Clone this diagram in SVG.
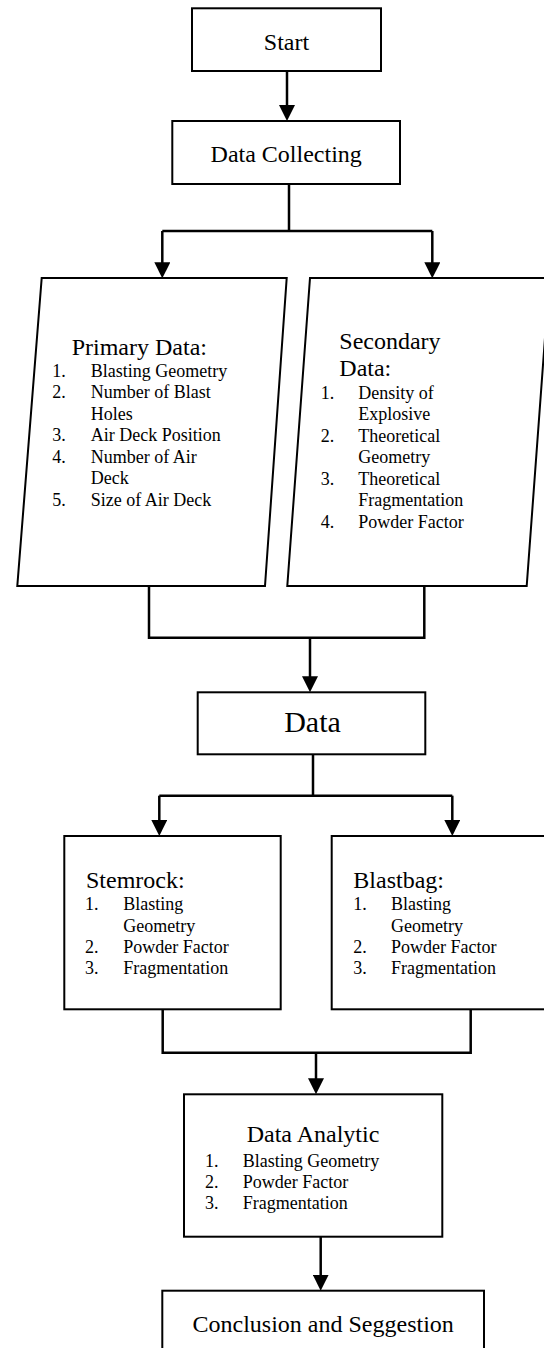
<svg xmlns="http://www.w3.org/2000/svg" width="544" height="1348" viewBox="0 0 544 1348">
<style>
.box{fill:#fff;stroke:#000;stroke-width:2}
.con{fill:none;stroke:#000;stroke-width:2.5}
.arr{fill:none;stroke:#000;stroke-width:2.5;marker-end:url(#ah)}
text{font-family:"Liberation Serif","Times New Roman",serif;fill:#000}
.t24{font-size:24px}
.t30{font-size:30px}
.t18{font-size:18px}
.c{text-anchor:middle}
</style>
<defs>
<marker id="ah" viewBox="0 0 16 16" refX="8" refY="8" markerWidth="16" markerHeight="16" markerUnits="userSpaceOnUse" orient="auto">
<path d="M0,0 L16,8 L0,16 z" fill="#000"/>
</marker>
</defs>
<rect x="0" y="0" width="544" height="1348" fill="#fff"/>
<g id="connectors">
<path class="arr" d="M287,71 V113"/>
<path class="con" d="M289,184 V231 M162.3,231 H432.3"/>
<path class="arr" d="M162.3,231 V270.3"/>
<path class="arr" d="M432.3,231 V270.3"/>
<path class="con" d="M149,586 V637.7 H424.3 V586"/>
<path class="arr" d="M310,637.7 V684.3"/>
<path class="con" d="M313,754.3 V795.7 M159.3,795.7 H452.3"/>
<path class="arr" d="M159.3,795.7 V828"/>
<path class="arr" d="M452.3,795.7 V828"/>
<path class="con" d="M162.7,1009.3 V1052.7 H470.7 V1009.3"/>
<path class="arr" d="M316,1052.7 V1086.3"/>
<path class="arr" d="M320.7,1236.7 V1282.7"/>
</g>
<g id="start">
<rect class="box" x="192" y="8.3" width="189" height="62.7"/>
<text class="t24 c" x="286.5" y="50">Start</text>
</g>
<g id="data-collecting">
<rect class="box" x="172.3" y="121" width="227.7" height="63"/>
<text class="t24 c" x="286.2" y="162">Data Collecting</text>
</g>
<g id="primary-data">
<polygon class="box" points="41.7,278 286.7,278 265,586 17.3,586"/>
<text class="t24" x="71.7" y="355">Primary Data:</text>
<g class="t18">
<text x="52.3" y="376.7">1.</text><text x="90.7" y="376.7">Blasting Geometry</text>
<text x="52.3" y="398.2">2.</text><text x="90.7" y="398.2">Number of Blast</text>
<text x="90.7" y="419.7">Holes</text>
<text x="52.3" y="441.2">3.</text><text x="90.7" y="441.2">Air Deck Position</text>
<text x="52.3" y="462.7">4.</text><text x="90.7" y="462.7">Number of Air</text>
<text x="90.7" y="484.2">Deck</text>
<text x="52.3" y="505.7">5.</text><text x="90.7" y="505.7">Size of Air Deck</text>
</g>
</g>
<g id="secondary-data">
<polygon class="box" points="310,278 549.4,278 526.7,586 287.3,586"/>
<text class="t24" x="339.3" y="349">Secondary</text>
<text class="t24" x="339.3" y="376">Data:</text>
<g class="t18">
<text x="320.7" y="398.5">1.</text><text x="358.3" y="398.5">Density of</text>
<text x="358.3" y="420">Explosive</text>
<text x="320.7" y="441.5">2.</text><text x="358.3" y="441.5">Theoretical</text>
<text x="358.3" y="463">Geometry</text>
<text x="320.7" y="484.5">3.</text><text x="358.3" y="484.5">Theoretical</text>
<text x="358.3" y="506">Fragmentation</text>
<text x="320.7" y="527.5">4.</text><text x="358.3" y="527.5">Powder Factor</text>
</g>
</g>
<g id="data">
<rect class="box" x="197.7" y="692.3" width="227.6" height="62"/>
<text class="t30 c" x="312.5" y="731.7">Data</text>
</g>
<g id="stemrock">
<rect class="box" x="64.3" y="836" width="216.4" height="173.3"/>
<text class="t24" x="86" y="888.3">Stemrock:</text>
<g class="t18">
<text x="85" y="910.3">1.</text><text x="123.3" y="910.3">Blasting</text>
<text x="123.3" y="931.7">Geometry</text>
<text x="85" y="953">2.</text><text x="123.3" y="953">Powder Factor</text>
<text x="85" y="974.3">3.</text><text x="123.3" y="974.3">Fragmentation</text>
</g>
</g>
<g id="blastbag">
<rect class="box" x="331.7" y="836" width="216.4" height="173.3"/>
<text class="t24" x="353.3" y="888.3">Blastbag:</text>
<g class="t18">
<text x="353.3" y="910.3">1.</text><text x="391" y="910.3">Blasting</text>
<text x="391" y="931.7">Geometry</text>
<text x="353.3" y="953">2.</text><text x="391" y="953">Powder Factor</text>
<text x="353.3" y="974.3">3.</text><text x="391" y="974.3">Fragmentation</text>
</g>
</g>
<g id="data-analytic">
<rect class="box" x="184" y="1094.3" width="258.3" height="142.4"/>
<text class="t24 c" x="313" y="1141.7">Data Analytic</text>
<g class="t18">
<text x="205" y="1166.7">1.</text><text x="242.7" y="1166.7">Blasting Geometry</text>
<text x="205" y="1187.7">2.</text><text x="242.7" y="1187.7">Powder Factor</text>
<text x="205" y="1208.7">3.</text><text x="242.7" y="1208.7">Fragmentation</text>
</g>
</g>
<g id="conclusion">
<rect class="box" x="162.3" y="1290.7" width="321.7" height="70"/>
<text class="t24 c" x="323.2" y="1331.7">Conclusion and Seggestion</text>
</g>
</svg>
